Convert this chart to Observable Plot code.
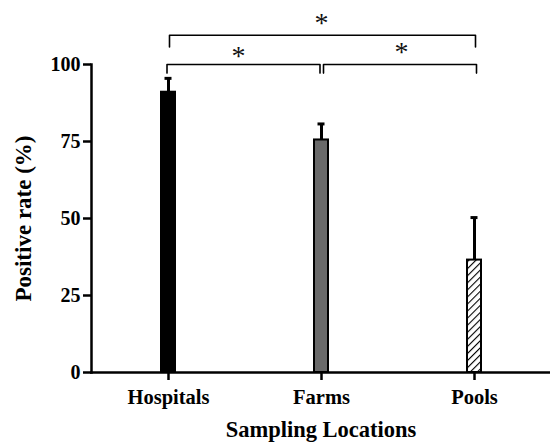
<!DOCTYPE html>
<html>
<head>
<meta charset="utf-8">
<script src="https://cdn.jsdelivr.net/npm/d3@7"></script>
<script src="https://cdn.jsdelivr.net/npm/@observablehq/plot@0.6"></script>
<style>
  html, body { margin: 0; padding: 0; background: #fff; }
</style>
</head>
<body>
<div id="chart"></div>
<script>
// Data
const categories = ["Hospitals", "Farms", "Pools"];
const values = [91, 75.5, 36.5];        // Positive rate (%)
const errors = [4.5, 5.2, 13.8];        // upper error bar
const yTicks = [0, 25, 50, 75, 100];
// significance comparisons
const compFrom = ["Hospitals", "Farms", "Hospitals"];
const compTo = ["Farms", "Pools", "Pools"];
const compLabel = ["*", "*", "*"];

const data = categories.map((c, i) => ({cat: c, value: values[i], err: errors[i]}));

// styles (kept out of the data)
const barFill = {Hospitals: "#000", Farms: "#6a6a6a", Pools: "url(#hatch)"};
const bracketLevel = [100, 100, 109.5];   // y level of each bracket
const bracketDrop = [2.8, 2.8, 3.8];
const bracketDx = [-1.5, 2, 1];
const starY = [102.6, 104, 113.6];
const starX = ["Hospitals", "Farms", "Farms"];
const starDx = [70, 80, 0];

const bracketMarks = compFrom.map((f, i) => {
  const pts = [
    {x: f, y: bracketLevel[i] - bracketDrop[i]},
    {x: f, y: bracketLevel[i]},
    {x: compTo[i], y: bracketLevel[i]},
    {x: compTo[i], y: bracketLevel[i] - bracketDrop[i]}
  ];
  return Plot.line(pts, {x: "x", y: "y", stroke: "#000", strokeWidth: 1.6, dx: bracketDx[i], curve: "linear"});
});

const starMarks = compLabel.map((s, i) =>
  Plot.text([s], {x: () => starX[i], y: () => starY[i], text: d => d, dx: starDx[i],
    fontSize: 28, fontWeight: "normal", fill: "#111"})
);

const chart = Plot.plot({
  width: 550,
  height: 442,
  marginLeft: 91,
  marginRight: 0,
  marginTop: 64,
  marginBottom: 70,
  style: {
    fontFamily: "'Liberation Serif', 'Times New Roman', serif",
    fontWeight: "bold",
    fontSize: "20px",
    color: "#000",
    background: "#fff",
    overflow: "visible"
  },
  x: {domain: categories, paddingInner: 0.91, paddingOuter: 0.45, label: null},
  y: {domain: [0, 100], label: null},
  marks: [
    Plot.barY(data, {x: "cat", y: "value", fill: d => barFill[d.cat], stroke: "#000", strokeWidth: 2}),
    Plot.ruleX(data, {x: "cat", y1: "value", y2: d => d.value + d.err, stroke: "#000", strokeWidth: 3}),
    Plot.tickY(data, {x: "cat", y: d => d.value + d.err, stroke: "#000", strokeWidth: 3, insetLeft: 3.5, insetRight: 3.5}),
    Plot.frame({anchor: "left", stroke: "#000", strokeWidth: 2.5}),
    Plot.frame({anchor: "bottom", stroke: "#000", strokeWidth: 2.5}),
    Plot.axisY({ticks: yTicks, tickSize: 8, tickPadding: 3, stroke: "#000", strokeWidth: 2.5, fontSize: 20, label: null}),
    Plot.axisX({tickSize: 8, tickPadding: 9, stroke: "#000", strokeWidth: 2.5, fontSize: 20.5, label: null}),
    ...bracketMarks,
    ...starMarks,
    Plot.text(["Positive rate (%)"], {frameAnchor: "left", rotate: -90, dx: -68, textAnchor: "middle", lineAnchor: "middle", fontSize: 23, fontWeight: "bold"}),
    Plot.text(["Sampling Locations"], {frameAnchor: "bottom", dy: 57, textAnchor: "middle", lineAnchor: "middle", fontSize: 22.5, fontWeight: "bold"})
  ]
});

d3.select(chart).insert("defs", ":first-child").html(
  `<pattern id="hatch" patternUnits="userSpaceOnUse" width="5" height="5" patternTransform="rotate(45)">
     <rect width="5" height="5" fill="#fff"></rect>
     <line x1="0" y1="0" x2="0" y2="5" stroke="#000" stroke-width="2.2"></line>
   </pattern>`
);

document.getElementById("chart").appendChild(chart);
</script>
</body>
</html>
